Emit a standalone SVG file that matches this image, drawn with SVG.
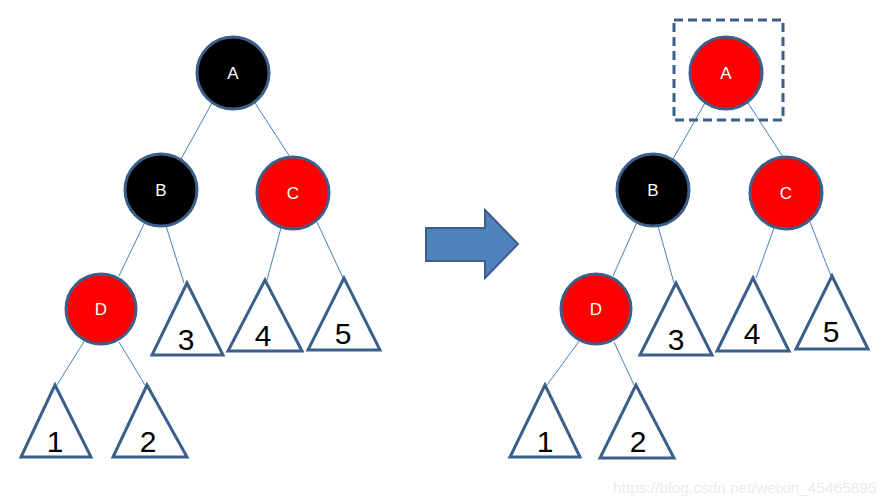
<svg xmlns="http://www.w3.org/2000/svg" width="893" height="504" viewBox="0 0 893 504">
<style>
.n{stroke:#3A5F8B;stroke-width:3}
.blk{fill:#000}
.red{fill:#FF0000}
.lt{fill:#fff;font-family:"Liberation Sans",Arial,sans-serif;font-size:17px;text-anchor:middle;dominant-baseline:central}
.tri{fill:#fff;stroke:#3A5F8B;stroke-width:3;stroke-linejoin:miter}
.num{fill:#000;font-family:"Liberation Sans",Arial,sans-serif;font-size:30px;text-anchor:middle}
.e{stroke:#4A7EBB;stroke-width:1;fill:none}
</style>
<rect width="893" height="504" fill="#fff"/>
<g id="connectors">
<line class="e" x1="212" y1="103" x2="181" y2="159"/>
<line class="e" x1="255" y1="103" x2="290" y2="157"/>
<line class="e" x1="145" y1="222" x2="119" y2="276"/>
<line class="e" x1="166" y1="226" x2="184" y2="283"/>
<line class="e" x1="281" y1="228" x2="267" y2="280"/>
<line class="e" x1="317" y1="222" x2="343" y2="278"/>
<line class="e" x1="85" y1="340" x2="57" y2="385"/>
<line class="e" x1="119" y1="342" x2="145" y2="385"/>
<line class="e" x1="705" y1="103" x2="673" y2="159"/>
<line class="e" x1="748" y1="103" x2="783" y2="157"/>
<line class="e" x1="637" y1="222" x2="613" y2="276"/>
<line class="e" x1="658" y1="226" x2="674" y2="283"/>
<line class="e" x1="774" y1="228" x2="756" y2="278"/>
<line class="e" x1="810" y1="222" x2="831" y2="276"/>
<line class="e" x1="580" y1="340" x2="547" y2="385"/>
<line class="e" x1="614" y1="342" x2="634" y2="385"/>
</g>
<g id="arrow">
<polygon points="426,228 485,228 485,210 518,244 485,278 485,261 426,261" fill="#4F81BD" stroke="#3A5F8B" stroke-width="2"/>
</g>
<g id="L-A"><circle class="n blk" cx="233" cy="73" r="36"/><text class="lt" x="233" y="73">A</text></g>
<g id="L-B"><circle class="n blk" cx="161" cy="190" r="36"/><text class="lt" x="161" y="190">B</text></g>
<g id="L-C"><circle class="n red" cx="293" cy="193" r="36"/><text class="lt" x="293" y="193">C</text></g>
<g id="L-D"><circle class="n red" cx="101" cy="309" r="35"/><text class="lt" x="101" y="309">D</text></g>
<g id="L-T1"><polygon class="tri" points="55,385 21,457 91,457"/><text class="num" x="55" y="452">1</text></g>
<g id="L-T2"><polygon class="tri" points="147,385 113,457 187,457"/><text class="num" x="148" y="452">2</text></g>
<g id="L-T3"><polygon class="tri" points="187,283 152,355 223,355"/><text class="num" x="186" y="350">3</text></g>
<g id="L-T4"><polygon class="tri" points="265,280 228,351 302,351"/><text class="num" x="263" y="346">4</text></g>
<g id="L-T5"><polygon class="tri" points="344,278 308,350 380,350"/><text class="num" x="343" y="344">5</text></g>
<g id="R-A"><rect x="674" y="20" width="109" height="100" fill="none" stroke="#3A5F8B" stroke-width="3" stroke-dasharray="9,5"/><circle class="n red" cx="726" cy="73" r="36"/><text class="lt" x="726" y="73">A</text></g>
<g id="R-B"><circle class="n blk" cx="653" cy="190" r="36"/><text class="lt" x="653" y="190">B</text></g>
<g id="R-C"><circle class="n red" cx="786" cy="193" r="36"/><text class="lt" x="786" y="193">C</text></g>
<g id="R-D"><circle class="n red" cx="596" cy="309" r="35"/><text class="lt" x="596" y="309">D</text></g>
<g id="R-T1"><polygon class="tri" points="545,385 510,457 580,457"/><text class="num" x="545" y="452">1</text></g>
<g id="R-T2"><polygon class="tri" points="636,385 600,458 674,458"/><text class="num" x="638" y="452">2</text></g>
<g id="R-T3"><polygon class="tri" points="676,283 640,355 712,355"/><text class="num" x="676" y="350">3</text></g>
<g id="R-T4"><polygon class="tri" points="753,278 717,351 789,351"/><text class="num" x="752" y="344">4</text></g>
<g id="R-T5"><polygon class="tri" points="832,276 796,349 868,349"/><text class="num" x="831" y="342">5</text></g>
<text x="613" y="493" fill="#ebebeb" font-family="'Liberation Sans',Arial,sans-serif" font-size="15.5">https://blog.csdn.net/weixin_45465895</text>
</svg>
